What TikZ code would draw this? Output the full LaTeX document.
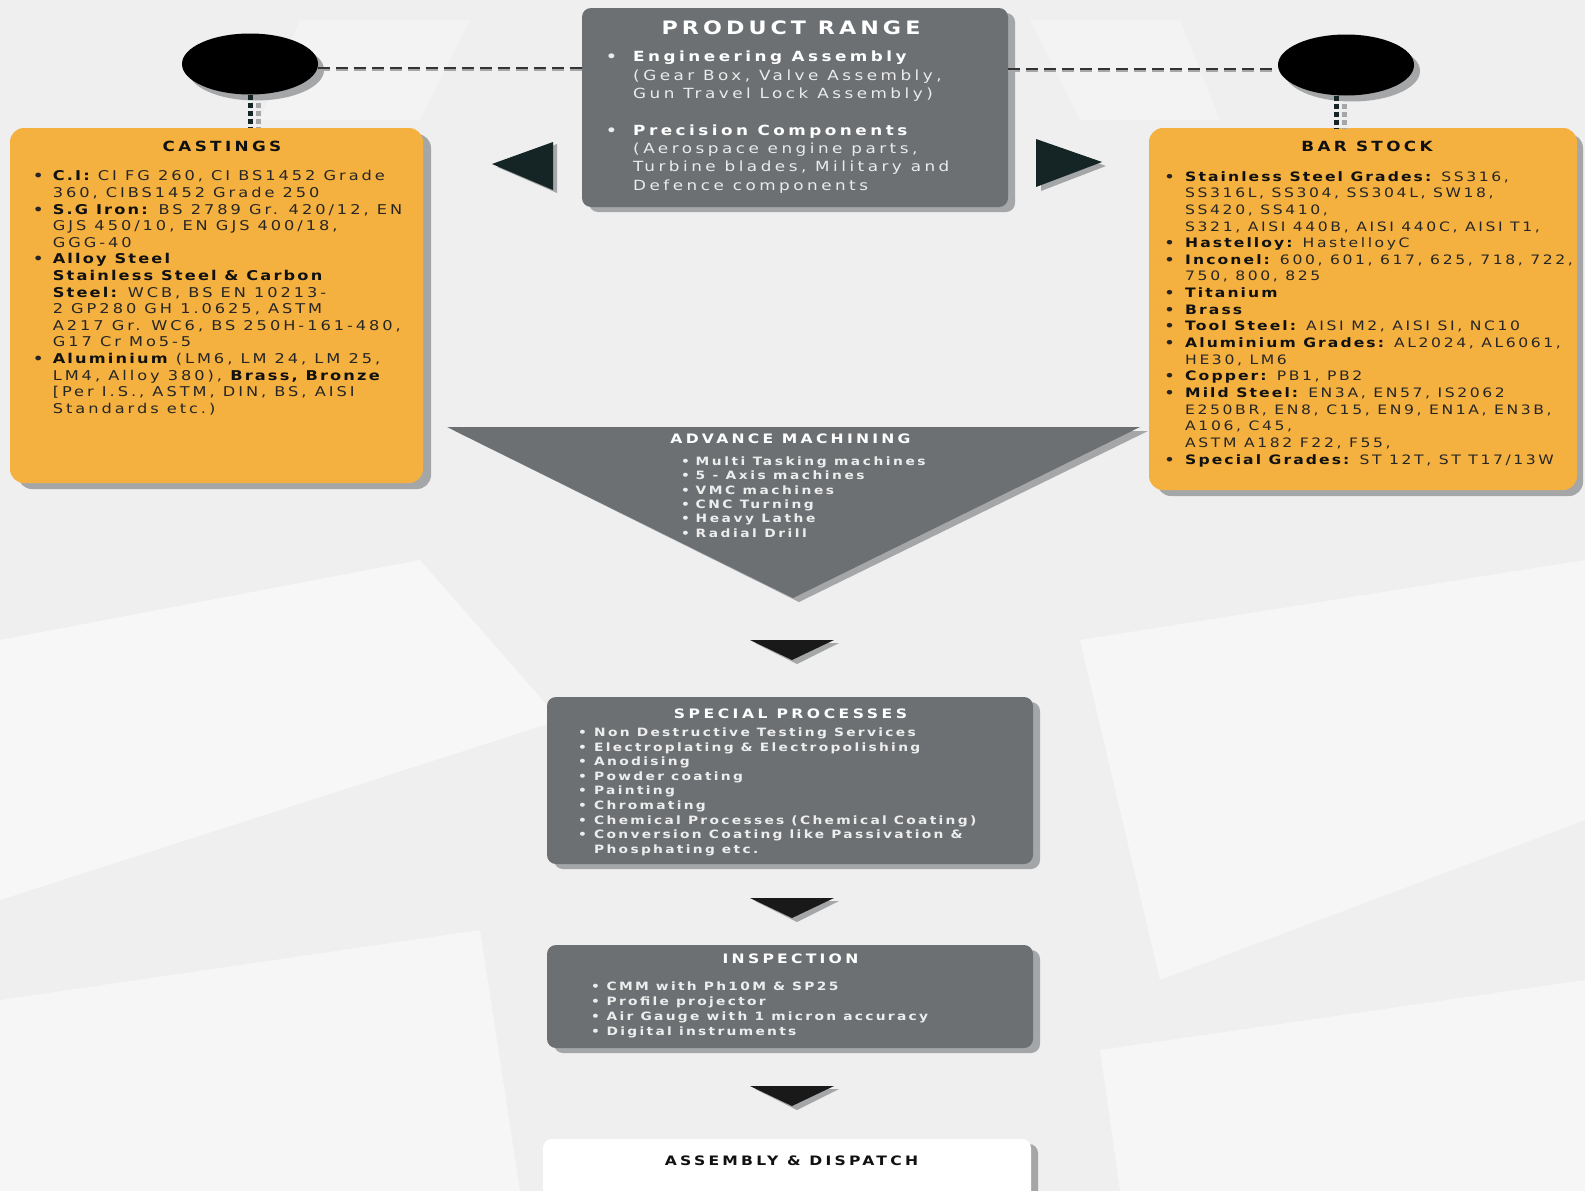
\documentclass[tikz,border=0pt]{standalone}
\usepackage{fontspec}
\setmainfont{DejaVu Sans}[FakeStretch=1.2]
\usetikzlibrary{shapes.geometric}
\definecolor{bg}{HTML}{EFEFEF}
\definecolor{orng}{HTML}{F5B13F}
\definecolor{gbox}{HTML}{6C7072}
\definecolor{shad}{HTML}{A4A6A8}
\definecolor{tri}{HTML}{152424}
\definecolor{txt}{HTML}{262626}
\definecolor{txtb}{HTML}{111111}
\newlength\bw
\newcommand\bl{\makebox[\bw][l]{\textbf{•}}}
\newcommand\ind{\hspace*{\bw}}
\newcommand\tf[3]{\fontsize{#1}{#2}\selectfont\addfontfeatures{LetterSpace=#3}}
\newcommand\lb[1]{{\bfseries\addfontfeatures{LetterSpace=16}\color{txtb}#1}}
\begin{document}
\begin{tikzpicture}[x=1pt,y=-1pt,
  obox/.style={fill=orng, rounded corners=14pt, inner sep=0},
  gboxs/.style={fill=gbox, rounded corners=9pt, inner sep=0},
  blob/.style={ellipse, fill=black, minimum width=136pt, minimum height=61pt, inner sep=0},
  txtnode/.style={anchor=north west, align=left, inner sep=0},
  ttl/.style={anchor=center, inner sep=0},
  dashln/.style={line width=2.6pt, dash pattern=on 12pt off 6pt},
  dotln/.style={line width=5pt, dash pattern=on 5pt off 3pt}]
\useasboundingbox (0,0) rectangle (1585,1191);
\fill[bg] (0,0) rectangle (1585,1191);
% faint background shapes
\fill[white, opacity=0.5] (0,640) -- (420,560) -- (560,720) -- (0,900) -- cycle;
\fill[white, opacity=0.45] (1080,640) -- (1585,560) -- (1585,820) -- (1160,980) -- cycle;
\fill[white, opacity=0.3] (300,20) -- (470,20) -- (420,120) -- (260,120) -- cycle;
\fill[white, opacity=0.3] (1030,20) -- (1180,20) -- (1220,120) -- (1080,120) -- cycle;
\fill[white, opacity=0.45] (0,1000) -- (480,930) -- (520,1191) -- (0,1191) -- cycle;
\fill[white, opacity=0.45] (1100,1050) -- (1585,980) -- (1585,1191) -- (1120,1191) -- cycle;

% ---- shadows
\fill[shad] (256,70) ellipse [x radius=68, y radius=30.5];
\fill[shad] (1352,71) ellipse [x radius=68, y radius=30.5];
\fill[shad, rounded corners=14pt] (18,134) rectangle (431,489);
\fill[shad, rounded corners=14pt] (1157,134) rectangle (1583,496);
\fill[shad, rounded corners=9pt] (589,13) rectangle (1015,212);
\fill[shad, rounded corners=9pt] (554,702) rectangle (1040,869);
\fill[shad, rounded corners=9pt] (554,950) rectangle (1040,1053);
\fill[shad, rounded corners=9pt] (550,1144) rectangle (1038,1200);
\fill[shad] (455,431) -- (1148,431) -- (799,602) -- cycle;

% ---- main shapes
\node[blob] (e1) at (250,64) {};
\node[blob] (e2) at (1346,65) {};
\node[obox, minimum width=413pt, minimum height=355pt] (cast) at (216.5,305.5) {};
\node[obox, minimum width=428pt, minimum height=362pt] (bar) at (1363,309) {};
\node[gboxs, minimum width=426pt, minimum height=199pt] (prod) at (795,107.5) {};
\node[gboxs, minimum width=486pt, minimum height=167pt] (spec) at (790,780.5) {};
\node[gboxs, minimum width=486pt, minimum height=103pt] (insp) at (790,996.5) {};
\node[fill=white, rounded corners=9pt, inner sep=0, minimum width=488pt, minimum height=62pt] (asm) at (787,1170) {};

% advance machining triangle
\fill[gbox] (447,427) -- (1140,427) -- (793,598) -- cycle;
% side triangles
\fill[shad] (497,167) -- (557,144) -- (557,193) -- cycle;
\fill[tri] (492,164) -- (553,142) -- (553,190) -- cycle;
\fill[shad] (1041,143) -- (1106,166) -- (1041,191) -- cycle;
\fill[tri] (1036,139) -- (1102,162) -- (1036,187) -- cycle;
% small down arrows
\foreach \yy in {640,898,1086}{
  \fill[shad] (755,\yy+3) -- (839,\yy+3) -- (797,\yy+24) -- cycle;
  \fill[black!90] (750,\yy) -- (834,\yy) -- (792,\yy+20) -- cycle;
}

% ---- connectors
\draw[dashln, shad] ([yshift=-6pt]e1.east) -- ([yshift=-6pt]e1.east -| prod.west);
\draw[dashln, black!80] ([yshift=-4pt]e1.east) -- ([yshift=-4pt]e1.east -| prod.west);
\draw[dashln, shad] ([yshift=-6pt]e2.west -| prod.east) -- ([yshift=-6pt]e2.west);
\draw[dashln, black!80] ([yshift=-4pt]e2.west -| prod.east) -- ([yshift=-4pt]e2.west);
\draw[dotln, shad] ([xshift=8pt]e1.south) -- ([xshift=8pt]e1.south |- cast.north);
\draw[dotln, tri] (e1.south) -- (e1.south |- cast.north);
\draw[dotln, shad] ([xshift=-2pt]e2.south) -- ([xshift=-2pt]e2.south |- bar.north);
\draw[dotln, tri] ([xshift=-10pt]e2.south) -- ([xshift=-10pt]e2.south |- bar.north);

% ---- titles
\node[ttl, text=white, font=\tf{18.5}{22}{22}\bfseries] (prodt) at (791,27.5) {PRODUCT RANGE};
\node[ttl, text=txtb, font=\tf{14}{17}{24}\bfseries] (castt) at (222,146.6) {CASTINGS};
\node[ttl, text=txtb, font=\tf{14}{17}{24}\bfseries] (bart) at (1367,146.6) {BAR STOCK};
\node[ttl, text=white, font=\tf{13}{16}{25}\bfseries] (advt) at (790.5,438.7) {ADVANCE MACHINING};
\node[ttl, text=white, font=\tf{13}{16}{27}\bfseries] (spect) at (790.5,713.6) {SPECIAL PROCESSES};
\node[ttl, text=white, font=\tf{13}{16}{25}\bfseries] (inspt) at (790.5,958.3) {INSPECTION};
\node[ttl, text=txtb, font=\tf{13}{16}{25}\bfseries] (asmt) at (791.5,1160.4) {ASSEMBLY \& DISPATCH};

% ---- lists
\node[txtnode, text=txt, font=\setlength\bw{19.6pt}\tf{13.5}{16.6}{22}] (castl) at (33,170.5) {%
\bl\lb{C.I:} CI FG 260, CI BS1452 Grade\\
\ind 360, CIBS1452 Grade 250\\
\bl\lb{S.G Iron:} BS 2789 Gr. 420/12, EN\\
\ind GJS 450/10, EN GJS 400/18,\\
\ind GGG-40\\
\bl\lb{Alloy Steel}\\
\ind\lb{Stainless Steel \& Carbon}\\
\ind\lb{Steel:} WCB, BS EN 10213-\\
\ind 2 GP280 GH 1.0625, ASTM\\
\ind A217 Gr. WC6, BS 250H-161-480,\\
\ind G17 Cr Mo5-5\\
\bl\lb{Aluminium} (LM6, LM 24, LM 25,\\
\ind LM4, Alloy 380), \lb{Brass, Bronze}\\
\ind [Per I.S., ASTM, DIN, BS, AISI\\
\ind Standards etc.)};

\node[txtnode, text=txt, font=\setlength\bw{20.5pt}\tf{13}{16.65}{20}] (barl) at (1164.5,171) {%
\bl\lb{Stainless Steel Grades:} SS316,\\
\ind SS316L, SS304, SS304L, SW18,\\
\ind SS420, SS410,\\
\ind S321, AISI 440B, AISI 440C, AISI T1,\\
\bl\lb{Hastelloy:} HastelloyC\\
\bl\lb{Inconel:} 600, 601, 617, 625, 718, 722,\\
\ind 750, 800, 825\\
\bl\lb{Titanium}\\
\bl\lb{Brass}\\
\bl\lb{Tool Steel:} AISI M2, AISI SI, NC10\\
\bl\lb{Aluminium Grades:} AL2024, AL6061,\\
\ind HE30, LM6\\
\bl\lb{Copper:} PB1, PB2\\
\bl\lb{Mild Steel:} EN3A, EN57, IS2062\\
\ind E250BR, EN8, C15, EN9, EN1A, EN3B,\\
\ind A106, C45,\\
\ind ASTM A182 F22, F55,\\
\bl\lb{Special Grades:} ST 12T, ST T17/13W};

\node[txtnode, text=white!92!black, font=\setlength\bw{27pt}\tf{14}{18.2}{25}] (prodl) at (606,51) {%
\bl\textbf{\color{white}Engineering Assembly}\\
\ind (Gear Box, Valve Assembly,\\
\ind Gun Travel Lock Assembly)\\[19pt]
\bl\textbf{\color{white}Precision Components}\\
\ind (Aerospace engine parts,\\
\ind Turbine blades, Military and\\
\ind Defence components};

\node[txtnode, text=white!93!black, font=\setlength\bw{14.5pt}\tf{11.5}{14.35}{22}\bfseries] (advl) at (681,456.4) {%
\bl Multi Tasking machines\\
\bl 5 - Axis machines\\
\bl VMC machines\\
\bl CNC Turning\\
\bl Heavy Lathe\\
\bl Radial Drill};

\node[txtnode, text=white!93!black, font=\setlength\bw{16pt}\tf{11.5}{14.66}{20}\bfseries] (specl) at (578,727.4) {%
\bl Non Destructive Testing Services\\
\bl Electroplating \& Electropolishing\\
\bl Anodising\\
\bl Powder coating\\
\bl Painting\\
\bl Chromating\\
\bl Chemical Processes (Chemical Coating)\\
\bl Conversion Coating like Passivation \&\\
\ind Phosphating etc.};

\node[txtnode, text=white!93!black, font=\setlength\bw{15.5pt}\tf{11.5}{14.8}{20}\bfseries] (inspl) at (591,982) {%
\bl CMM with Ph10M \& SP25\\
\bl Profile projector\\
\bl Air Gauge with 1 micron accuracy\\
\bl Digital instruments};
\end{tikzpicture}
\end{document}
